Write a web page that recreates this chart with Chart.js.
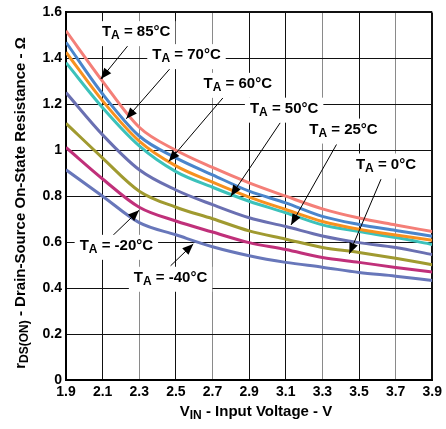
<!DOCTYPE html>
<html>
<head>
<meta charset="utf-8">
<script src="https://cdn.jsdelivr.net/npm/chart.js@4/dist/chart.umd.min.js"></script>
<style>
html,body{margin:0;padding:0;background:#fff;}
#wrap{width:446px;height:429px;position:relative;}
</style>
</head>
<body>
<div id="wrap"><canvas id="c" width="446" height="429"></canvas></div>
<script>
const vin = [1.9, 2.1, 2.3, 2.5, 2.7, 2.9, 3.1, 3.3, 3.5, 3.7, 3.9];
const r85  = [1.52, 1.30, 1.10, 1.0, 0.925, 0.858, 0.80, 0.745, 0.705, 0.675, 0.646];
const r70  = [1.47, 1.245, 1.062, 0.967, 0.893, 0.822, 0.771, 0.712, 0.677, 0.651, 0.626];
const r60  = [1.427, 1.215, 1.04, 0.932, 0.861, 0.796, 0.742, 0.69, 0.656, 0.631, 0.608];
const r50  = [1.381, 1.185, 1.019, 0.907, 0.839, 0.778, 0.728, 0.675, 0.646, 0.62, 0.59];
const r25  = [1.251, 1.067, 0.915, 0.827, 0.763, 0.706, 0.668, 0.627, 0.598, 0.577, 0.546];
const r0   = [1.117, 0.966, 0.822, 0.752, 0.702, 0.649, 0.613, 0.577, 0.555, 0.53, 0.502];
const rm20 = [1.012, 0.875, 0.752, 0.692, 0.644, 0.598, 0.568, 0.533, 0.512, 0.49, 0.47];
const rm40 = [0.915, 0.80, 0.685, 0.632, 0.58, 0.541, 0.512, 0.491, 0.468, 0.452, 0.433];
const tempLabels = ['85°C', '70°C', '60°C', '50°C', '25°C', '0°C', '-20°C', '-40°C'];
const xTicks = [1.9, 2.1, 2.3, 2.5, 2.7, 2.9, 3.1, 3.3, 3.5, 3.7, 3.9];
const yTicks = [0, 0.2, 0.4, 0.6, 0.8, 1, 1.2, 1.4, 1.6];

const series = [r85, r70, r60, r50, r25, r0, rm20, rm40];
const colors = ['#f47f78', '#4a85cc', '#f7911f', '#3cc2bb', '#6a70b2', '#a09a30', '#c0307a', '#6877ba'];

// annotation text anchors and arrows in data coordinates
const notes = [
  {t: tempLabels[0], cx: 2.283, cy: 1.514, x1: 2.245, y1: 1.462, x2: 2.09, y2: 1.31},
  {t: tempLabels[1], cx: 2.558, cy: 1.414, x1: 2.471, y1: 1.358, x2: 2.229, y2: 1.137},
  {t: tempLabels[2], cx: 2.838, cy: 1.289, x1: 2.757, y1: 1.228, x2: 2.461, y2: 0.951},
  {t: tempLabels[3], cx: 3.091, cy: 1.181, x1: 3.07,  y1: 1.12,  x2: 2.80,  y2: 0.80},
  {t: tempLabels[4], cx: 3.415, cy: 1.09,  x1: 3.377, y1: 1.025, x2: 3.129, y2: 0.675},
  {t: tempLabels[5], cx: 3.647, cy: 0.938, x1: 3.62,  y1: 0.874, x2: 3.447, y2: 0.549},
  {t: tempLabels[6], cx: 2.175, cy: 0.584, x1: 2.148, y1: 0.623, x2: 2.299, y2: 0.739},
  {t: tempLabels[7], cx: 2.471, cy: 0.445, x1: 2.471, y1: 0.497, x2: 2.595, y2: 0.592}
];

const FONT = '"Liberation Sans", Arial, sans-serif';

function measure(ctx, parts) {
  let total = 0;
  parts.forEach(p => { ctx.font = 'bold ' + p.size + 'px ' + FONT; p.w = ctx.measureText(p.s).width; total += p.w; });
  return total;
}
function drawSubText(ctx, parts, x, y) {
  const total = measure(ctx, parts);
  let sx = x - total / 2;
  ctx.textAlign = 'left';
  ctx.textBaseline = 'middle';
  parts.forEach(p => { ctx.font = 'bold ' + p.size + 'px ' + FONT; ctx.fillText(p.s, sx, y + (p.dy || 0)); sx += p.w; });
  return total;
}

const annotPlugin = {
  id: 'annot',
  afterDatasetsDraw(chart) {
    const ctx = chart.ctx, xs = chart.scales.x, ys = chart.scales.y;
    ctx.save();
    notes.forEach(n => {
      const x1 = xs.getPixelForValue(n.x1), y1 = ys.getPixelForValue(n.y1);
      const x2 = xs.getPixelForValue(n.x2), y2 = ys.getPixelForValue(n.y2);
      ctx.strokeStyle = '#000'; ctx.fillStyle = '#000'; ctx.lineWidth = 1;
      ctx.beginPath(); ctx.moveTo(x1, y1); ctx.lineTo(x2, y2); ctx.stroke();
      const ang = Math.atan2(y2 - y1, x2 - x1), L = 11, W = 4.5;
      ctx.beginPath();
      ctx.moveTo(x2, y2);
      ctx.lineTo(x2 - L * Math.cos(ang) + W * Math.sin(ang), y2 - L * Math.sin(ang) - W * Math.cos(ang));
      ctx.lineTo(x2 - L * Math.cos(ang) - W * Math.sin(ang), y2 - L * Math.sin(ang) + W * Math.cos(ang));
      ctx.closePath(); ctx.fill();
    });
    notes.forEach(n => {
      const cx = xs.getPixelForValue(n.cx), cy = ys.getPixelForValue(n.cy);
      const parts = [{s: 'T', size: 15}, {s: 'A', size: 12, dy: 4}, {s: ' = ' + n.t, size: 15}];
      const total = measure(ctx, parts);
      ctx.fillStyle = '#fff';
      ctx.fillRect(cx - total / 2 - 5, cy - 11, total + 10, 25);
      ctx.fillStyle = '#000';
      drawSubText(ctx, parts, cx, cy);
    });
    ctx.restore();
  },
  afterDraw(chart) {
    const ctx = chart.ctx;
    ctx.save();
    ctx.fillStyle = '#000';
    drawSubText(ctx, [{s: 'V', size: 15}, {s: 'IN', size: 12, dy: 4}, {s: ' - Input Voltage - V', size: 15}], 256, 412);
    ctx.translate(21, 203);
    ctx.rotate(-Math.PI / 2);
    drawSubText(ctx, [{s: 'r', size: 15}, {s: 'DS(ON)', size: 12, dy: 4}, {s: ' - Drain-Source On-State Resistance - Ω', size: 15}], 0, 0);
    ctx.restore();
  }
};

const grayX = [2.3, 2.7, 3.3, 3.7];

new Chart(document.getElementById('c'), {
  type: 'line',
  data: {
    datasets: series.map((s, i) => ({
      label: 'TA = ' + tempLabels[i],
      data: vin.map((v, j) => ({x: v, y: s[j]})),
      borderColor: colors[i],
      borderWidth: 3,
      pointRadius: 0,
      fill: false,
      cubicInterpolationMode: 'monotone'
    }))
  },
  options: {
    responsive: false,
    animation: false,
    layout: {padding: {top: 10, right: 9, left: 0, bottom: 0}},
    plugins: {legend: {display: false}, tooltip: {enabled: false}, title: {display: false}},
    scales: {
      x: {
        type: 'linear', min: 1.9, max: 3.9,
        afterBuildTicks: s => { s.ticks = xTicks.map(v => ({value: v})); },
        afterFit: s => { s.height = 49; },
        ticks: {
          color: '#000', padding: 4, maxRotation: 0, autoSkip: false,
          font: {family: FONT, size: 14, weight: 'bold'},
          callback: v => v.toFixed(1)
        },
        grid: {
          drawTicks: false,
          color: c => grayX.some(g => Math.abs(g - c.tick.value) < 1e-6) ? '#8a8a8a' : '#111',
          lineWidth: c => Math.abs(c.tick.value - 3.9) < 1e-6 ? 2 : 1
        },
        border: {color: '#000', width: 2}
      },
      y: {
        type: 'linear', min: 0, max: 1.6,
        afterBuildTicks: s => { s.ticks = yTicks.map(v => ({value: v})); },
        afterFit: s => { s.width = 66; },
        ticks: {
          color: '#000', padding: 4,
          font: {family: FONT, size: 14, weight: 'bold'},
          callback: v => (v === 0 ? '0' : (Math.abs(v - 1) < 1e-9 ? '1' : v.toFixed(1)))
        },
        grid: {
          drawTicks: false,
          color: '#111',
          lineWidth: c => Math.abs(c.tick.value - 1.6) < 1e-6 ? 2 : 1
        },
        border: {color: '#000', width: 2}
      }
    }
  },
  plugins: [annotPlugin]
});
</script>
</body>
</html>
